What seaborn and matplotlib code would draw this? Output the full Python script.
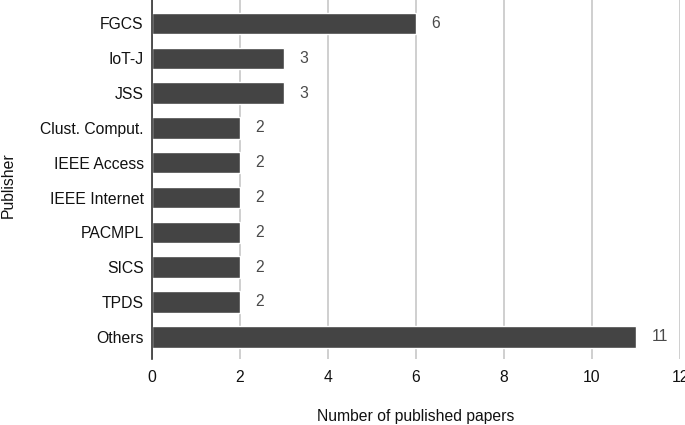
import matplotlib
matplotlib.use("Agg")
import matplotlib.pyplot as plt
import seaborn as sns
import pandas as pd

publishers = ["FGCS", "IoT-J", "JSS", "Clust. Comput.", "IEEE Access",
              "IEEE Internet", "PACMPL", "SICS", "TPDS", "Others"]
papers = [6, 3, 3, 2, 2, 2, 2, 2, 2, 11]
xticks = [0, 2, 4, 6, 8, 10, 12]

sns.set_theme(style="white")
plt.rcParams['font.family'] = ['Liberation Sans', 'DejaVu Sans']

FS = 11.3
df = pd.DataFrame({"Publisher": publishers, "Papers": papers})

fig = plt.figure(figsize=(6.85, 4.25), dpi=100)
ax = fig.add_axes([152/685, 1 - 359/425, (680-152)/685, 359/425])

sns.barplot(data=df, y="Publisher", x="Papers", orient="h", color="#444444",
            width=0.62, saturation=1, ax=ax, zorder=3)

ax.set_xlim(0, 12)
ax.set_ylim(9.5 + 0.14, -0.5 - 0.175)
ax.set_xticks(xticks)
ax.set_xticklabels([str(t) for t in xticks], fontsize=FS, color="#111111")
ax.tick_params(axis="y", labelsize=FS, colors="#111111", length=0, pad=6)
ax.tick_params(axis="x", length=0, pad=8)
ax.grid(axis="x", color="#cccccc", linewidth=1.3, zorder=0)
ax.grid(axis="y", visible=False)
for s in ["top", "right", "bottom"]:
    ax.spines[s].set_visible(False)
ax.spines["left"].set_color("#333333")
ax.spines["left"].set_linewidth(1.2)
ax.spines["left"].set_zorder(5)

for i, v in enumerate(papers):
    ax.annotate(str(v), xy=(v, i), xytext=(11, 0), textcoords="offset points",
                ha="left", va="center", fontsize=FS, color="#4a4a4a")

ax.set_xlabel("Number of published papers", fontsize=FS, color="#111111", va="center")
ax.xaxis.set_label_coords(0.5, -(416 - 359) / 359)
ax.set_ylabel("Publisher", fontsize=FS, color="#111111", va="center")
ax.yaxis.set_label_coords((8 - 152) / 528, 0.5 + (359/2 - 185) / 359)

fig.savefig("out.png", dpi=100)
